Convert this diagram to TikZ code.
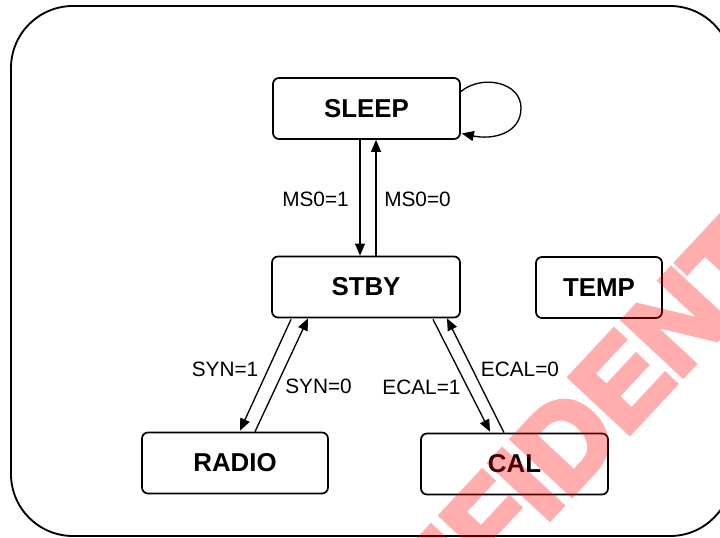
\documentclass[tikz,border=0pt]{standalone}
\usepackage{fontspec}
\setmainfont{Liberation Sans}
\newfontfamily\wmfont[FakeBold=5]{Liberation Sans Bold}
\usetikzlibrary{arrows.meta,calc}
\tikzset{
  statebox/.style={draw=black, line width=1.3pt, rounded corners=4.5pt, fill=white,
    inner sep=0pt, minimum height=45.75pt, font=\fontsize{19.4}{23}\selectfont\bfseries},
  lbl/.style={inner sep=0pt, font=\fontsize{15.6}{18}\selectfont},
  trans/.style={draw=black, line width=1pt, -{Triangle[length=9pt,width=7.5pt]}},
  outer/.style={draw=black, line width=1.4pt, rounded corners=46.5pt},
  wmark/.style={inner sep=0pt, text=red,
    font=\wmfont\fontsize{88}{92}\selectfont}
}
\begin{document}
\begin{tikzpicture}[x=0.75pt,y=-0.75pt]
\useasboundingbox (0,0) rectangle (720,538);
\begin{scope}
\clip (0,0) rectangle (720,538);
\fill[white] (0,0) rectangle (720,538);
\draw[outer] (11,6) rectangle (732,536);

\node[statebox, minimum width=140.25pt] (sleep) at (366.5,108.5) {SLEEP};
\node[statebox, minimum width=141pt] (stby) at (366,287) {STBY};
\node[statebox, minimum width=94.5pt] (temp) at (599,287.5) {TEMP};
\node[statebox, minimum width=139.5pt] (radio) at (235,463) {RADIO};
\node[statebox, minimum width=140.25pt] (cal) at (514.5,464) {CAL};

% SLEEP <-> STBY
\draw[trans] ($(sleep.south)+(-6.5,0)$) -- ($(stby.north)+(-6,0)$);
\draw[trans] ($(stby.north)+(10,0)$) -- ($(sleep.south)+(9.5,0)$);
% self loop
\draw[trans] ($(sleep.east)+(0,-17)$) .. controls (482,74) and (521,82) .. (521,108)
  .. controls (521,134) and (492,140) .. ($(sleep.east)+(1,25)$);
% STBY <-> RADIO
\draw[trans] ($(stby.south)+(-75,1)$) -- ($(radio.north)+(5,-1)$);
\draw[trans] ($(radio.north)+(20,0)$) -- ($(stby.south)+(-58,0)$);
% STBY <-> CAL
\draw[trans] ($(stby.south)+(67,1)$) -- ($(cal.north)+(-24.5,-1)$);
\draw[trans] ($(cal.north)+(-10.5,0)$) -- ($(stby.south)+(81,0)$);

\node[lbl, anchor=east] (l1) at (349,199) {MS0=1};
\node[lbl, anchor=west] (l2) at (384,199) {MS0=0};
\node[lbl] (l3) at (225,369) {SYN=1};
\node[lbl] (l4) at (318.5,386.5) {SYN=0};
\node[lbl] (l5) at (421.5,387.5) {ECAL=1};
\node[lbl] (l6) at (520,369.5) {ECAL=0};

\begin{scope}[transparency group, opacity=0.32]
\node[wmark, rotate=47] (wm) at (586,420) {CONFIDENTIAL};
\end{scope}
\end{scope}
\end{tikzpicture}
\end{document}
